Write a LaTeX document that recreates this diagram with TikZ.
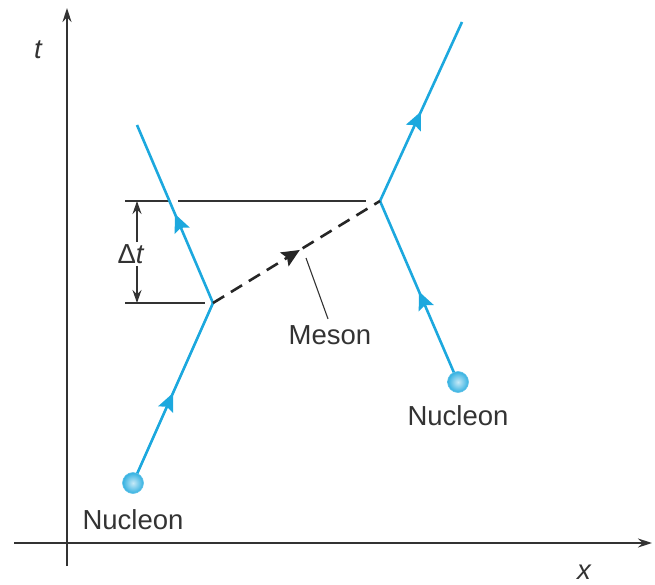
\documentclass[tikz,border=0pt]{standalone}
\usepackage{fontspec}
\setmainfont{Liberation Sans}
\usetikzlibrary{arrows.meta,decorations.markings}
\definecolor{nblue}{RGB}{28,168,222}
\begin{document}
\begin{tikzpicture}[x=1pt,y=-1pt,
  lbl/.style={font=\fontsize{27.5}{32}\selectfont, text=black!80},
  axis/.style={draw=black!80, line width=1.6pt, -{Stealth[length=14pt,width=9pt]}},
  world/.style={draw=nblue, line width=2.6pt,
     postaction={decorate},
     decoration={markings, mark=at position 0.5 with {\arrow{Stealth[length=18pt,width=16pt,inset=3pt]}}}},
  guide/.style={draw=black!80, line width=1.1pt},
  ball/.style={circle, minimum size=21pt, inner sep=0pt, inner color=nblue!25, outer color=nblue!90, draw=nblue!70, line width=0.6pt}]
\useasboundingbox (0,0) rectangle (655,585);
% axes
\coordinate (o1) at (67,566);
\coordinate (o2) at (67,8);
\coordinate (x1) at (14,543);
\coordinate (x2) at (652,543);
\draw[axis] (o1) -- (o2);
\draw[axis] (x1) -- (x2);
\node[lbl, font=\fontsize{27.5}{32}\selectfont\itshape] (tl) at (38,50) {t};
\node[lbl, font=\fontsize{27.5}{32}\selectfont\itshape] (xl) at (584,572) {x};
% vertices
\coordinate (A) at (213,303);
\coordinate (B) at (380,201);
\coordinate (Atop) at (137,125);
\coordinate (Btop) at (462,22);
% guide lines
\coordinate (g1) at (125,201);
\coordinate (g1a) at (169,201);
\coordinate (g1b) at (178,201);
\coordinate (g2) at (366,201);
\coordinate (g3) at (125,303);
\coordinate (g4) at (205,303);
\draw[guide] (g1) -- (g1a);
\draw[guide] (g1b) -- (g2);
\draw[guide] (g3) -- (g4);
% Delta t
\node[lbl, inner sep=2pt] (dt) at (131,254) {Δ\textit{t}};
\coordinate (dtt) at (137,201);
\coordinate (dtb) at (137,303);
\draw[guide, -{Stealth[length=13pt,width=9pt]}] (dt.north -| dtt) -- (dtt);
\draw[guide, -{Stealth[length=13pt,width=9pt]}] (dt.south -| dtb) -- (dtb);
% nucleons
\coordinate (n1) at (133,483);
\coordinate (n2) at (458,382);
\node[lbl] (n1l) at (133,520) {Nucleon};
\node[lbl] (n2l) at (458,416) {Nucleon};
% world lines
\draw[world] (n1) -- (A);
\draw[world] (A) -- (Atop);
\draw[world] (n2) -- (B);
\draw[world] (B) -- (Btop);
% meson
\draw[black!85, line width=2.6pt, dash pattern=on 13pt off 8pt,
  postaction={decorate},
  decoration={markings, mark=at position 0.52 with {\arrow[solid]{Stealth[length=18pt,width=16pt,inset=3pt]}}}] (A) -- (B);
\node[lbl] (ml) at (330,335) {Meson};
\coordinate (mp) at (306,258);
\draw[guide] (ml.north) ++(-2,-3) -- (mp);
% balls on top
\node[ball] (b1) at (n1) {};
\node[ball] (b2) at (n2) {};
\end{tikzpicture}
\end{document}
